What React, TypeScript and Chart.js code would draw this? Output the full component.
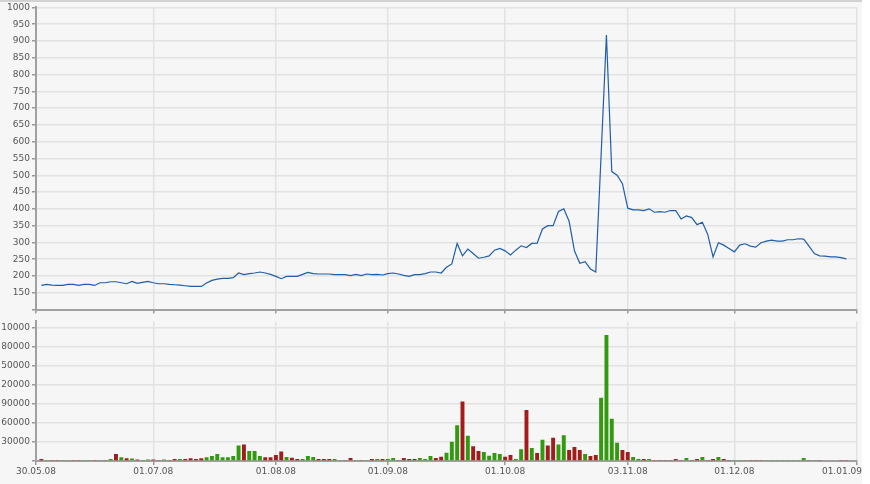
import { useEffect, useRef } from 'react';
import { Chart, registerables } from 'chart.js';

Chart.register(...registerables);

// trading-day index of each date label on the x axis (0 = 30.05.08)
const tickDays = [0, 22, 45, 66, 88, 111, 131, 154];
const tickLabels = ['30.05.08', '01.07.08', '01.08.08', '01.09.08', '01.10.08', '03.11.08', '01.12.08', '01.01.09'];

// first trading day with data (02.06.08)
const firstDay = 1;

// closing price per trading day
const price = [
  172, 175, 173, 172, 172, 175, 175, 172, 175, 175,
  172, 180, 180, 183, 183, 180, 177, 184, 178, 181,
  184, 180, 177, 177, 175, 174, 173, 171, 169, 169,
  169, 179, 187, 191, 193, 193, 195, 209, 204, 207,
  209, 212, 209, 205, 199, 192, 199, 199, 199, 205,
  211, 207, 206, 206, 206, 204, 204, 204, 201, 205,
  201, 206, 204, 205, 203, 207, 209, 206, 202, 199,
  204, 204, 207, 212, 212, 209, 226, 236, 297, 260,
  280, 267, 253, 256, 260, 277, 282, 275, 263, 277,
  290, 285, 297, 298, 340, 350, 350, 392, 400, 363,
  275, 238, 243, 221, 212, 560, 918, 511, 500, 475,
  402, 397, 397, 395, 400, 390, 392, 390, 395, 395,
  370, 379, 374, 353, 360, 324, 257, 299, 292, 282,
  272, 292, 296, 289, 286, 299, 304, 307, 304, 304,
  308, 308, 311, 310, 289, 267, 260, 259, 257, 257,
  255, 251,
];

// traded volume per trading day
const volume = [
  3000, 1500, 1500, 1500, 1500, 1500, 1500, 1500, 1500, 1500,
  1500, 1500, 1500, 3000, 11000, 6000, 4500, 4000, 2500, 1500,
  2500, 2500, 1500, 2500, 1500, 3000, 3000, 3000, 4500, 3000,
  4500, 6000, 7800, 11000, 6000, 6000, 7800, 24500, 26000, 15600,
  15600, 7800, 6000, 6000, 9400, 15000, 6500, 5000, 3100, 3100,
  7800, 6200, 3100, 3100, 3100, 3100, 1500, 1500, 4700, 1500,
  1500, 1500, 3100, 3100, 3100, 3100, 4700, 1500, 4700, 3100,
  3100, 4700, 3100, 7800, 4700, 6800, 13000, 30200, 56200, 93700,
  39600, 23400, 15600, 14100, 8300, 12500, 10900, 6800, 9400, 3100,
  18700, 80200, 20300, 12500, 33300, 24500, 36500, 26000, 40600, 17200,
  21900, 17200, 10900, 7800, 9400, 99500, 198400, 66700, 28600, 17200,
  14100, 6250, 3100, 3100, 3100, 1500, 1500, 1500, 1500, 3100,
  1500, 4700, 1500, 3100, 6250, 1500, 3100, 6250, 3100, 1500,
  1500, 1500, 1500, 1500, 1500, 1500, 1500, 1500, 1500, 1500,
  1500, 1500, 1500, 4700, 1500, 1500, 1500, 0, 0, 0,
  1500, 1500,
];

// g = up day, r = down day, - = no trade
const dayMove = [
  'rgrrggrrgg', 'rgrgrgrgrg', 'grrgrrgrrr', 'rgggggggrg', 'ggrrrrgrrg',
  'ggrrrggrrg', 'rgrgrggrrr', 'rgggrrgggr', 'grrggggrrg', 'grgrgrrggr',
  'rrgrrggggr', 'rggrgrrrrr', 'rgrrgrrgrr', 'gggrrrgggg', 'ggggrgr---',
  'rr',
].join('');

const volumeTicks = [0, 30000, 60000, 90000, 120000, 150000, 180000, 210000];
const volumeTickLabels = ['', '30000', '60000', '90000', '20000', '50000', '80000', '10000'];

const FONT = { family: 'DejaVu Sans', size: 9 };
const LABEL = '#555';
const GRID = '#e2e2e2';
const AXIS = '#a0a0a0';
const GREEN = '#329a0e';
const RED = '#a21c1c';

const setDateTicks = (scale: any) => {
  scale.ticks = tickDays.map((v) => ({ value: v }));
};

// last date label sits flush with the right edge instead of centred on its tick
const lastDateLabel = {
  id: 'lastDateLabel',
  afterDraw(chart: any) {
    const { ctx, scales } = chart;
    ctx.save();
    ctx.font = `${FONT.size}px "${FONT.family}"`;
    ctx.fillStyle = LABEL;
    ctx.textAlign = 'right';
    ctx.textBaseline = 'middle';
    ctx.fillText(tickLabels[tickLabels.length - 1], chart.width - 8, scales.x.top + 10.4);
    ctx.restore();
  },
};

export default function App() {
  const priceRef = useRef<HTMLCanvasElement>(null);
  const volumeRef = useRef<HTMLCanvasElement>(null);

  useEffect(() => {
    if (!priceRef.current || !volumeRef.current) return;

    const priceChart = new Chart(priceRef.current, {
      type: 'line',
      data: {
        datasets: [{
          data: price.map((v, i) => ({ x: firstDay + i, y: v })),
          borderColor: '#1f5ea8',
          borderWidth: 1.2,
          pointRadius: 0,
          tension: 0,
        }],
      },
      options: {
        animation: false,
        responsive: false,
        layout: { padding: { top: 6, right: 13, left: 0, bottom: 0 } },
        plugins: { legend: { display: false }, tooltip: { enabled: false } },
        scales: {
          x: {
            type: 'linear',
            min: 0,
            max: 154,
            offset: false,
            afterBuildTicks: setDateTicks,
            ticks: { display: false },
            grid: { offset: false, color: GRID, lineWidth: 1.5, tickColor: '#999', tickLength: 4 },
            border: { color: AXIS, width: 2 },
          },
          y: {
            min: 100,
            max: 1000,
            afterFit: (s: any) => { s.width = 36; },
            ticks: {
              stepSize: 50,
              font: FONT,
              color: LABEL,
              padding: 2,
              callback: (v: any) => (v === 100 ? '' : v),
            },
            grid: { color: GRID, lineWidth: 1.5, tickColor: '#999', tickLength: 4 },
            border: { color: AXIS, width: 2 },
          },
        },
      },
    });

    const volumeChart = new Chart(volumeRef.current, {
      type: 'bar',
      data: {
        datasets: [{
          data: volume.map((v, i) => ({ x: firstDay + i, y: v })),
          backgroundColor: volume.map((_, i) => (dayMove[i] === 'g' ? GREEN : RED)),
          borderWidth: 0,
          barPercentage: 0.92,
          categoryPercentage: 0.8,
        }],
      },
      options: {
        animation: false,
        responsive: false,
        layout: { padding: { top: 6, right: 13, left: 0, bottom: 0 } },
        plugins: { legend: { display: false }, tooltip: { enabled: false } },
        scales: {
          x: {
            type: 'linear',
            min: 0,
            max: 154,
            offset: false,
            afterBuildTicks: setDateTicks,
            afterFit: (s: any) => { s.height = 23; },
            ticks: {
              font: FONT,
              color: LABEL,
              padding: 1,
              maxRotation: 0,
              autoSkip: false,
              callback: (_v: any, i: number) => (i === tickLabels.length - 1 ? '' : tickLabels[i]),
            },
            grid: { offset: false, color: GRID, lineWidth: 1.5, tickColor: '#999', tickLength: 4 },
            border: { color: AXIS, width: 2 },
          },
          y: {
            min: 0,
            max: 220000,
            afterFit: (s: any) => { s.width = 36; },
            afterBuildTicks: (s: any) => { s.ticks = volumeTicks.map((v) => ({ value: v })); },
            ticks: {
              font: FONT,
              color: LABEL,
              padding: 2,
              callback: (_v: any, i: number) => volumeTickLabels[i],
            },
            grid: { color: GRID, lineWidth: 1.5, tickColor: '#999', tickLength: 4 },
            border: { color: AXIS, width: 2 },
          },
        },
      },
      plugins: [lastDateLabel],
    });

    return () => {
      priceChart.destroy();
      volumeChart.destroy();
    };
  }, []);

  return (
    <div style={{ position: 'fixed', left: 0, top: 0, width: 870, height: 484, background: '#fff' }}>
      <div style={{ position: 'absolute', left: 0, top: 0, width: 862, height: 484, background: '#f6f6f6', borderTop: '2px solid #d2d2d2', boxSizing: 'border-box' }} />
      <canvas ref={priceRef} width={870} height={317} style={{ position: 'absolute', left: 0, top: 0 }} />
      <canvas ref={volumeRef} width={870} height={170} style={{ position: 'absolute', left: 0, top: 314 }} />
    </div>
  );
}
